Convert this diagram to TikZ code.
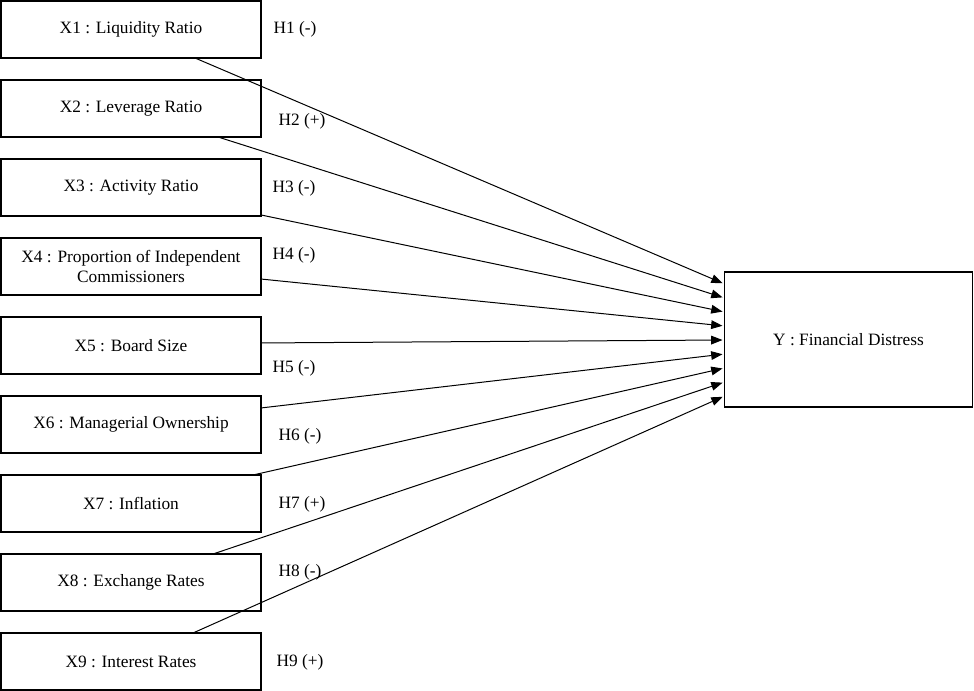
\documentclass[tikz,border=0pt]{standalone}
\usepackage{fontspec}
\setmainfont{Liberation Serif}
\usetikzlibrary{arrows.meta}
\begin{document}
\begin{tikzpicture}[x=0.75pt,y=-0.75pt,
  varbox/.style={draw,line width=0.9pt,minimum width=195pt,minimum height=42.75pt,inner sep=0pt,outer sep=0pt,align=center,font=\fontsize{13}{14.5}\selectfont},
  ybox/.style={draw,line width=0.9pt,minimum width=186pt,minimum height=101.25pt,inner sep=0pt,outer sep=0pt,font=\fontsize{13}{14.5}\selectfont},
  hlab/.style={font=\fontsize{13}{14.5}\selectfont,inner sep=0pt},
  link/.style={line width=0.75pt,shorten >=1.5pt,-{Triangle[length=8.5pt,width=6.5pt]}}]
\useasboundingbox (0,0) rectangle (974,691);
\node[varbox] (x1) at (131,29.5) {X1 : Liquidity Ratio};
\node[varbox] (x2) at (131,108.5) {X2 : Leverage Ratio};
\node[varbox] (x3) at (131,187.5) {X3 : Activity Ratio};
\node[varbox] (x4) at (131,266.5) {X4 : Proportion of Independent\\Commissioners};
\node[varbox] (x5) at (131,345.5) {X5 : Board Size};
\node[varbox] (x6) at (131,424.5) {X6 : Managerial Ownership};
\node[varbox] (x7) at (131,503.5) {X7 : Inflation};
\node[varbox] (x8) at (131,582.5) {X8 : Exchange Rates};
\node[varbox] (x9) at (131,661.5) {X9 : Interest Rates};
\node[ybox] (y) at (848.5,339.5) {Y : Financial Distress};
\node[hlab] (h1) at (295,29) {H1 (-)};
\node[hlab] (h2) at (302,121) {H2 (+)};
\node[hlab] (h3) at (294,188) {H3 (-)};
\node[hlab] (h4) at (294,255) {H4 (-)};
\node[hlab] (h5) at (294,368) {H5 (-)};
\node[hlab] (h6) at (300,436) {H6 (-)};
\node[hlab] (h7) at (302,504) {H7 (+)};
\node[hlab] (h8) at (300,572) {H8 (-)};
\node[hlab] (h9) at (300,662) {H9 (+)};
\draw[link] ([xshift=145.5pt]x1.south west) -- ([yshift=41.625pt]y.west);
\draw[link] ([xshift=162.75pt]x2.south west) -- ([yshift=31.125pt]y.west);
\draw[link] ([yshift=-20.6pt]x3.east) -- ([yshift=20.625pt]y.west);
\draw[link] ([yshift=-9.4pt]x4.east) -- ([yshift=10.125pt]y.west);
\draw[link] ([yshift=1.9pt]x5.east) -- ([yshift=-0.375pt]y.west);
\draw[link] ([yshift=12.4pt]x6.east) -- ([yshift=-10.875pt]y.west);
\draw[link] ([xshift=189pt]x7.north west) -- ([yshift=-21.375pt]y.west);
\draw[link] ([xshift=159pt]x8.north west) -- ([yshift=-31.875pt]y.west);
\draw[link] ([xshift=144pt]x9.north west) -- ([yshift=-42.375pt]y.west);
\end{tikzpicture}
\end{document}
